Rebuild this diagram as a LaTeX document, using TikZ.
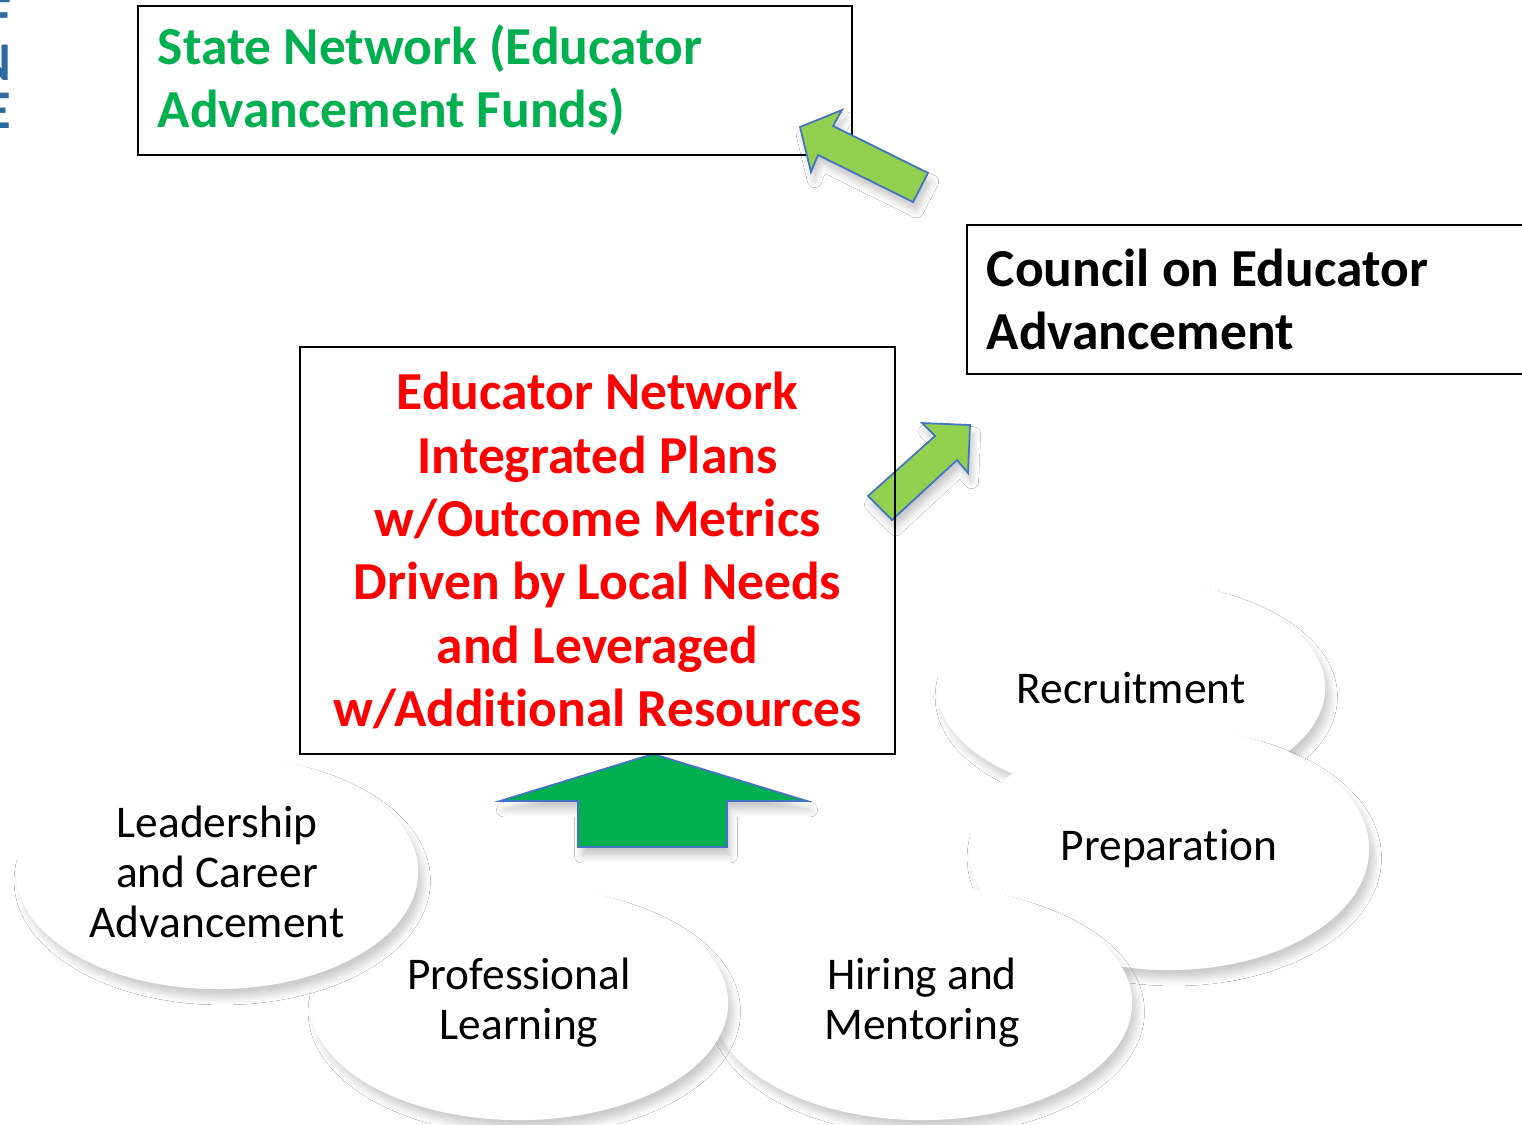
\documentclass[tikz,border=0pt]{standalone}
\usepackage{fontspec}
\setmainfont{Carlito}[Ligatures=NoCommon]
\usetikzlibrary{shapes.geometric,shadows.blur}

\begin{document}
\begin{tikzpicture}[x=0.01cm, y=-0.01cm,
  box/.style={draw=black, line width=0.6pt, inner sep=0pt, font=\fontsize{15.2}{18}\selectfont\bfseries},
  bubble/.style={ellipse, fill=white, align=center, inner sep=0pt, font=\fontsize{12.9}{14.2}\selectfont,
    blur shadow={shadow xshift=1.5pt, shadow yshift=-2.5pt, shadow opacity=20, shadow blur radius=2pt, shadow blur steps=8}},
  blockarrow/.style={draw=edgeblue, line width=0.5pt, line join=miter,
    blur shadow={shadow xshift=1pt, shadow yshift=-2.5pt, shadow opacity=22, shadow blur radius=2pt, shadow blur steps=6}},
  edgeletter/.style={anchor=base east, inner sep=0pt, text=titleblue, font=\fontsize{15.5}{18}\selectfont\bfseries}]
\definecolor{edgeblue}{HTML}{4472C4}
\definecolor{titleblue}{HTML}{2C6AA0}
\definecolor{lightgreen}{HTML}{92D050}
\definecolor{darkgreen}{HTML}{00B050}
\definecolor{textred}{HTML}{FF0000}
\clip (0,0) rectangle (1522,1124);
\fill[white] (0,0) rectangle (1522,1124);
% cut-off title letters at the left edge
\node[edgeletter] (letf) at (12,32) {F};
\node[edgeletter] (letn) at (12,80) {N};
\node[edgeletter] (lete) at (12,128) {E};
% ellipses, back to front
\node[bubble, minimum width=3.88cm, minimum height=2.16cm] (recruit) at (1131,688) {Recruitment};
\node[bubble, minimum width=4.0cm, minimum height=2.42cm] (prep) at (1169,849) {Preparation};
\node[bubble, minimum width=4.2cm, minimum height=2.34cm] (hiring) at (922,1003) {Hiring and\\Mentoring};
\node[bubble, minimum width=4.18cm, minimum height=2.34cm] (proflearn) at (519,1003) {Professional\\Learning};
\node[bubble, minimum width=4.02cm, minimum height=2.34cm] (leader) at (217,872) {Leadership\\and Career\\Advancement};
% boxes
\node[box, text=darkgreen, align=flush left, text width=6.74cm, minimum width=7.14cm, minimum height=1.49cm] (statenet) at (495,80.5) {State Network (Educator\\Advancement Funds)};
\node[box, text=black, align=flush left, text width=5.5cm, minimum width=5.9cm, minimum height=1.49cm] (council) at (1262,299.5) {Council on Educator\\Advancement};
% block arrows
\fill[lightgreen, blockarrow] (800,127) -- (842,110) -- (833,126) -- (928,173) -- (913,202) -- (818,155) -- (811,172) -- cycle;
\fill[lightgreen, blockarrow] (970,425) -- (922,423) -- (935,436) -- (868,496) -- (892,520) -- (957,460) -- (968,473) -- cycle;
\fill[darkgreen, blockarrow] (653,754) -- (807,801) -- (727,801) -- (727,847) -- (578,847) -- (578,801) -- (500,801) -- cycle;
\node[box, text=textred, align=center, minimum width=5.95cm, minimum height=4.07cm] (plans) at (597.5,550.5) {Educator Network\\Integrated Plans\\w/Outcome Metrics\\Driven by Local Needs\\and Leveraged\\w/Additional Resources};
\end{tikzpicture}
\end{document}
